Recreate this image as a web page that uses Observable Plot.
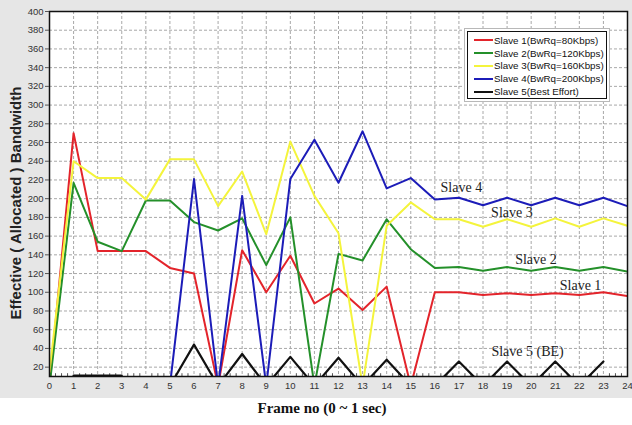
<!DOCTYPE html>
<html>
<head>
<meta charset="utf-8">
<script src="https://cdn.jsdelivr.net/npm/d3@7"></script>
<script src="https://cdn.jsdelivr.net/npm/@observablehq/plot@0.6"></script>
<style>
  body { margin: 0; background: #fff; }
  #wrap { position: relative; width: 632px; height: 425px; font-family: "Liberation Sans", Arial, sans-serif; }
  #chart { position: absolute; left: 0; top: 0; }
  #legend {
    position: absolute; left: 467px; top: 31px; width: 140px; height: 68px;
    background: #fff; border: 1px solid #111;
    box-shadow: 0 0 0 2px #fff, 0 0 0 3px #b8b8b8;
    font-size: 9.8px; color: #111; box-sizing: border-box; padding-top: 2px;
  }
  #legend .row { display: flex; align-items: center; height: 12.8px; white-space: nowrap; }
  #legend .swatch { width: 19px; height: 2px; margin: 0 1px 0 6px; flex: none; }
  #xtitle {
    position: absolute; left: 0; top: 400px; width: 644px; text-align: center;
    font-family: "Liberation Serif", "Times New Roman", serif; font-weight: bold; font-size: 15px; color: #111;
  }
</style>
</head>
<body>
<div id="wrap">
  <div id="chart"></div>
  <div id="legend"></div>
  <div id="xtitle">Frame no (0 ~ 1 sec)</div>
</div>
<script>
// Frame numbers within one second
const frames = d3.range(0, 25);

// Effective (allocated) bandwidth per frame for each slave (null = not drawn)
const slave1 = [0, 270, 144, 144, 144, 126, 120, 0, 145, 100, 139, 88, 104, 81, 106, 0, 100, 100, 97, 99, 97, 99, 97, 100, 96];
const slave2 = [0, 217, 154, 144, 198, 198, 175, 166, 179, 129, 180, 0, 141, 134, 178, 146, 126, 127, 123, 127, 123, 127, 123, 127, 122];
const slave3 = [15, 240, 222, 222, 199, 242, 242, 192, 229, 162, 261, 203, 163, 0, 171, 196, 178, 178, 170, 178, 170, 179, 170, 179, 171];
const slave4 = [null, null, null, null, null, 0, 221, 0, 203, 0, 221, 263, 217, 272, 211, 222, 199, 201, 193, 201, 193, 201, 193, 201, 192];
const slave5 = [null, 11, 11, 11, null, 0, 44, 0, 34, 0, 31, 0, 30, 0, 28, 0, 0, 26, 0, 26, 0, 26, 0, 26, null];

const seriesNames = ["Slave 1(BwRq=80Kbps)", "Slave 2(BwRq=120Kbps)", "Slave 3(BwRq=160Kbps)", "Slave 4(BwRq=200Kbps)", "Slave 5(Best Effort)"];
const seriesColors = ["#e3242b", "#24902a", "#f4f43c", "#1c1cb8", "#111111"];
const seriesValues = [slave1, slave2, slave3, slave4, slave5];

// Axis ticks
const yTicks = d3.range(20, 401, 20);
const xMinorTicks = d3.range(0, 24.01, 0.25).filter(d => d % 1 !== 0);

// In-chart series labels (frame, bandwidth)
const labelTexts = ["Slave 4", "Slave 3", "Slave 2", "Slave 1", "Slave 5 (BE)"];
const labelFrames = [17.1, 19.2, 20.2, 22.05, 19.85];
const labelValues = [212, 185, 135, 107, 37];

const rows = [];
seriesValues.forEach((vals, s) => {
  vals.forEach((v, i) => rows.push({ series: s, frame: frames[i], value: v }));
});
const labels = labelTexts.map((t, i) => ({ text: t, frame: labelFrames[i], value: labelValues[i] }));

const lineMarks = seriesValues.map((_, s) =>
  Plot.line(rows.filter(r => r.series === s), {
    x: "frame", y: "value", stroke: seriesColors[s], strokeWidth: s === 4 ? 2.2 : 2,
    defined: d => d.value != null, clip: true, curve: "linear"
  })
);

const chart = Plot.plot({
  width: 632,
  height: 398,
  marginLeft: 49,
  marginRight: 5,
  marginTop: 11,
  marginBottom: 22,
  style: { background: "#e6e6e6", fontFamily: "Liberation Sans, Arial, sans-serif", fontSize: "9.5px", color: "#333" },
  x: { domain: [0, 24] },
  y: { domain: [10, 400] },
  marks: [
    Plot.frame({ fill: "#fff" }),
    Plot.gridY(yTicks, { stroke: "#a8a8a8", strokeOpacity: 1, strokeDasharray: "3,2" }),
    Plot.gridX(frames, { stroke: "#a8a8a8", strokeOpacity: 1, strokeDasharray: "3,2" }),
    Plot.ruleX(xMinorTicks, { y1: 10, y2: 13, stroke: "#555" }),
    ...lineMarks,
    Plot.text(labels, {
      x: "frame", y: "value", text: "text",
      fontFamily: "Liberation Serif, Times New Roman, serif", fontSize: 14, fill: "#222"
    }),
    Plot.frame({ stroke: "#111", strokeWidth: 1.5 }),
    Plot.axisY(yTicks, { tickSize: 4, tickPadding: 2, label: null, stroke: "#555", fill: "#333" }),
    Plot.axisX(frames, { tickSize: 0, tickPadding: 6, label: null, fill: "#333" }),
    Plot.text(["Effective ( Allocated ) Bandwidth"], {
      frameAnchor: "left", textAnchor: "middle", dx: -33, dy: 9, rotate: -90,
      fontSize: 15, fontWeight: "bold", fill: "#222"
    })
  ]
});
document.getElementById("chart").appendChild(chart);

// Legend
const legend = document.getElementById("legend");
seriesNames.forEach((name, i) => {
  const row = document.createElement("div");
  row.className = "row";
  const sw = document.createElement("span");
  sw.className = "swatch";
  sw.style.background = seriesColors[i];
  const label = document.createElement("span");
  label.textContent = name;
  row.appendChild(sw);
  row.appendChild(label);
  legend.appendChild(row);
});
</script>
</body>
</html>
